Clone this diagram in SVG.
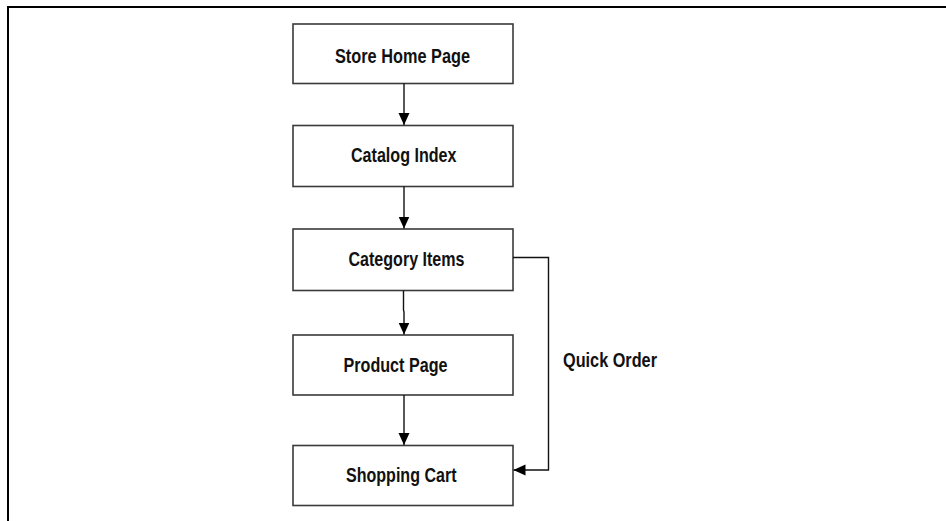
<svg xmlns="http://www.w3.org/2000/svg" width="946" height="521" viewBox="0 0 946 521">
<style>
.box{fill:#fff;stroke:#3a3a3a;stroke-width:1.6}
.lbl{font-family:"Liberation Sans",Arial,sans-serif;font-weight:bold;font-size:20.5px;fill:#111}
.con{fill:none;stroke:#111;stroke-width:1.4}
.frame{fill:none;stroke:#000;stroke-width:2}
</style>
<defs>
<marker id="arr" markerWidth="12" markerHeight="12" refX="12" refY="6" orient="auto" markerUnits="userSpaceOnUse">
<path d="M0,0.5 L12,6 L0,11.5 Z" fill="#000"/>
</marker>
</defs>
<path class="frame" d="M8,521 V7 H946"/>
<g id="store-home-page">
<rect class="box" x="293" y="24" width="220" height="59.5"/>
<text class="lbl" x="335" y="62.5" textLength="135" lengthAdjust="spacingAndGlyphs">Store Home Page</text>
</g>
<g id="catalog-index">
<rect class="box" x="293" y="125.5" width="220" height="61"/>
<text class="lbl" x="351" y="161.5" textLength="105.5" lengthAdjust="spacingAndGlyphs">Catalog Index</text>
</g>
<g id="category-items">
<rect class="box" x="293" y="229" width="220" height="61.5"/>
<text class="lbl" x="348.5" y="265.5" textLength="116" lengthAdjust="spacingAndGlyphs">Category Items</text>
</g>
<g id="product-page">
<rect class="box" x="293" y="335" width="220" height="60"/>
<text class="lbl" x="343.5" y="371.5" textLength="104" lengthAdjust="spacingAndGlyphs">Product Page</text>
</g>
<g id="shopping-cart">
<rect class="box" x="293" y="445.5" width="220" height="60"/>
<text class="lbl" x="346" y="481.5" textLength="110.5" lengthAdjust="spacingAndGlyphs">Shopping Cart</text>
</g>
<g id="connectors">
<line class="con" x1="404" y1="83.5" x2="404" y2="125" marker-end="url(#arr)"/>
<line class="con" x1="404" y1="186.5" x2="404" y2="228.5" marker-end="url(#arr)"/>
<path class="con" d="M403.5,290.5 V310 L404,312 V334.5" marker-end="url(#arr)"/>
<line class="con" x1="404" y1="395" x2="404" y2="445" marker-end="url(#arr)"/>
<path class="con" d="M513,257.5 H548.5 V470 H513.5" marker-end="url(#arr)"/>
<text class="lbl" x="563" y="367" textLength="94" lengthAdjust="spacingAndGlyphs">Quick Order</text>
</g>
</svg>
